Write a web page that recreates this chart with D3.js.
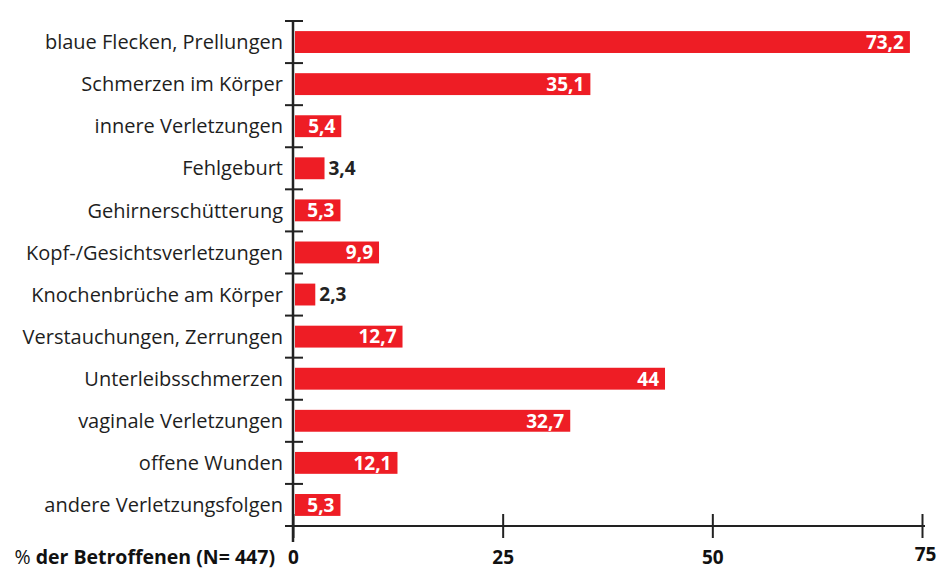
<!DOCTYPE html>
<html>
    <head>
        <meta charset="utf-8">
        <script src="https://d3js.org/d3.v7.min.js"></script>
        <style>
            body { margin:0; background:#fff; }
            text { font-family: "Open Sans", "Noto Sans", sans-serif; }
        </style>
    </head>
    <body>
        <script>
            var categories = [
                "blaue Flecken, Prellungen",
                "Schmerzen im Körper",
                "innere Verletzungen",
                "Fehlgeburt",
                "Gehirnerschütterung",
                "Kopf-/Gesichtsverletzungen",
                "Knochenbrüche am Körper",
                "Verstauchungen, Zerrungen",
                "Unterleibsschmerzen",
                "vaginale Verletzungen",
                "offene Wunden",
                "andere Verletzungsfolgen"
            ];
            var values = [73.2, 35.1, 5.4, 3.4, 5.3, 9.9, 2.3, 12.7, 44, 32.7, 12.1, 5.3];
            var tickValues = [0, 25, 50, 75];
            var axisTitle = "der Betroffenen (N= 447)";

            var width = 941, height = 570;
            var x0 = 293, x1 = 922, yTop = 21, yBottom = 526;

            var x = d3.scaleLinear().domain([0, 75]).range([x0, x1]);
            var y = d3.scaleBand().domain(categories).range([yTop, yBottom]).paddingInner(0.48).paddingOuter(0.24);

            var svg = d3.select("body").append("svg")
                .attr("width", width)
                .attr("height", height);

            var fmt = function (v) { return String(v).replace(".", ","); };

            // bars
            svg.selectAll("rect.bar")
                .data(values)
                .enter().append("rect")
                .attr("class", "bar")
                .attr("x", x(0) + 2)
                .attr("y", function (d, i) { return y(categories[i]); })
                .attr("width", function (d) { return x(d) - x(0) + 1; })
                .attr("height", y.bandwidth())
                .attr("fill", "#ee1d25");

            // value labels
            svg.selectAll("text.val")
                .data(values)
                .enter().append("text")
                .attr("class", "val")
                .attr("x", function (d) { return d < 4 ? x(d) + 7 : x(d) - 3; })
                .attr("y", function (d, i) { return y(categories[i]) + y.bandwidth() / 2; })
                .attr("dy", "0.36em")
                .attr("text-anchor", function (d) { return d < 4 ? "start" : "end"; })
                .attr("font-size", 19)
                .attr("font-weight", "bold")
                .attr("fill", function (d) { return d < 4 ? "#222" : "#fff"; })
                .text(fmt);

            // category labels
            svg.selectAll("text.cat")
                .data(categories)
                .enter().append("text")
                .attr("class", "cat")
                .attr("x", 283)
                .attr("y", function (d) { return y(d) + y.bandwidth() / 2; })
                .attr("dy", "0.36em")
                .attr("text-anchor", "end")
                .attr("font-size", 20)
                .attr("fill", "#1e1e1e")
                .text(function (d) { return d; });

            // vertical axis with separator ticks
            var sep = categories.map(function (d) { return y(d) - y.step() * y.paddingInner() / 2; });
            svg.append("line")
                .attr("x1", x0).attr("x2", x0)
                .attr("y1", sep[0]).attr("y2", yBottom + 16)
                .attr("stroke", "#222").attr("stroke-width", 2.5);
            svg.selectAll("line.sep")
                .data(sep)
                .enter().append("line")
                .attr("class", "sep")
                .attr("x1", x0 - 8).attr("x2", x0 + 10)
                .attr("y1", function (d) { return d; })
                .attr("y2", function (d) { return d; })
                .attr("stroke", "#222").attr("stroke-width", 2);

            // horizontal axis
            var xAxis = d3.axisBottom(x).tickValues(tickValues).tickSize(0).tickPadding(0);
            var gx = svg.append("g")
                .attr("transform", "translate(0," + yBottom + ")")
                .call(xAxis);
            gx.select(".domain").attr("stroke", "#222").attr("stroke-width", 2).attr("d", "M" + (x0 - 8) + ",0H" + (x1 + 3));
            gx.selectAll(".tick").append("line")
                .attr("y1", -12).attr("y2", 12)
                .attr("stroke", "#222").attr("stroke-width", 2);
            gx.selectAll(".tick text")
                .attr("y", 38)
                .attr("dy", 0)
                .attr("font-size", 19)
                .attr("font-weight", "bold")
                .attr("font-family", "\"Open Sans\", sans-serif")
                .attr("fill", "#111");
            gx.selectAll(".tick").filter(function (d) { return d === 75; }).select("text").attr("y", 35).attr("x", 3);

            var title = svg.append("text")
                .attr("x", 275)
                .attr("y", yBottom + 38)
                .attr("text-anchor", "end")
                .attr("font-size", 19.5)
                .attr("fill", "#111");
            title.append("tspan").text("% ");
            title.append("tspan").attr("font-weight", "bold").text(axisTitle);
        </script>
    </body>
</html>
